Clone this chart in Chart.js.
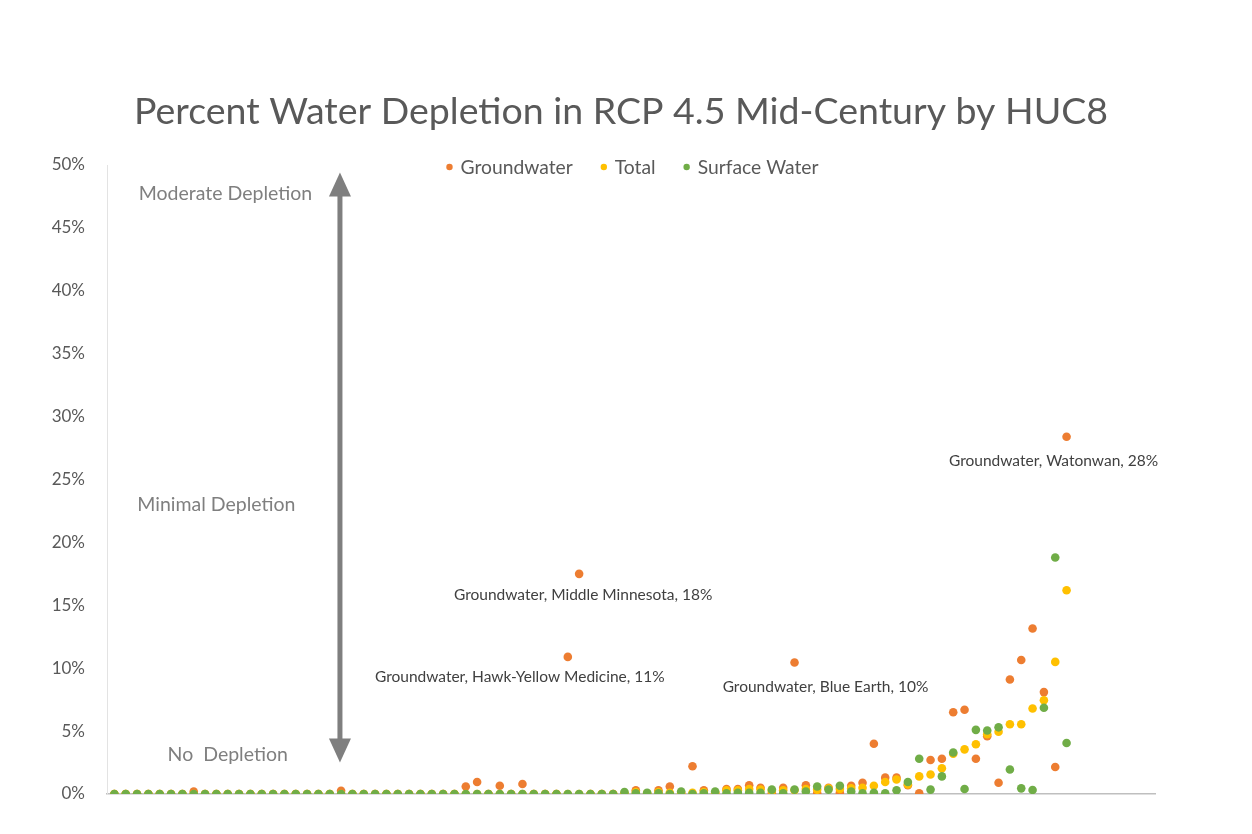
<!DOCTYPE html>
<html>
<head>
<meta charset="utf-8">
<script src="https://cdn.jsdelivr.net/npm/chart.js@4.4.1/dist/chart.umd.min.js"></script>
<style>
  html, body { margin: 0; padding: 0; background: #fff; }
  #caja { width: 1252px; height: 834px; position: relative; }
</style>
</head>
<body>
<div id="caja"><canvas id="grafica" width="1252" height="834"></canvas></div>
<script>
// HUC8 posiciones (ordenadas por depleción), 85 cuencas
const cuencas = Array.from({ length: 85 }, (_, i) => i);

// valores en %
const groundwater = [
  0, 0, 0, 0, 0, 0, 0, 0.2, 0, 0,
  0, 0, 0, 0, 0, 0, 0, 0, 0, 0,
  0.25, 0, 0, 0, 0, 0, 0, 0, 0, 0,
  0, 0.6, 0.95, 0, 0.65, 0, 0.8, 0, 0, 0,
  10.9, 17.5, 0, 0, 0, 0, 0.3, 0, 0.3, 0.6,
  0, 2.2, 0.3, 0.05, 0.4, 0.4, 0.7, 0.5, 0.05, 0.5,
  10.45, 0.7, 0.05, 0.5, 0.1, 0.65, 0.9, 4.0, 1.3, 1.3,
  0.7, 0.05, 2.7, 2.8, 6.5, 6.7, 2.8, 4.6, 0.9, 9.1,
  10.65, 13.15, 8.1, 2.15, 28.4
];
const total = [
  0, 0, 0, 0, 0, 0, 0, 0, 0, 0,
  0, 0, 0, 0, 0, 0, 0, 0, 0, 0,
  0, 0, 0, 0, 0, 0, 0, 0, 0, 0,
  0, 0, 0, 0, 0, 0, 0, 0, 0, 0,
  0, 0, 0, 0, 0, 0.05, 0.15, 0.05, 0.15, 0.1,
  0.1, 0.1, 0.15, 0.1, 0.3, 0.3, 0.4, 0.35, 0.25, 0.3,
  0.3, 0.4, 0.35, 0.45, 0.4, 0.45, 0.5, 0.65, 0.95, 1.15,
  0.75, 1.4, 1.55, 2.05, 3.2, 3.55, 3.95, 4.75, 4.95, 5.55,
  5.55, 6.8, 7.45, 10.5, 16.2
];
const surfaceWater = [
  0, 0, 0, 0, 0, 0, 0, 0, 0, 0,
  0, 0, 0, 0, 0, 0, 0, 0, 0, 0,
  0, 0, 0, 0, 0, 0, 0, 0, 0, 0,
  0, 0, 0, 0, 0, 0, 0, 0, 0, 0,
  0, 0, 0, 0, 0, 0.15, 0.05, 0.1, 0.05, 0,
  0.2, 0, 0.05, 0.2, 0.05, 0.1, 0.1, 0.1, 0.35, 0.05,
  0.35, 0.2, 0.6, 0.35, 0.65, 0.2, 0.05, 0.1, 0.05, 0.3,
  0.95, 2.8, 0.35, 1.4, 3.3, 0.4, 5.1, 5.05, 5.3, 1.95,
  0.45, 0.32, 6.86, 18.8, 4.05
];

const series = ['Groundwater', 'Total', 'Surface Water'];
const colores = ['#ED7D31', '#FFC000', '#70AD47'];
const ticksY = [0, 5, 10, 15, 20, 25, 30, 35, 40, 45, 50];
const titulo = 'Percent Water Depletion in RCP 4.5 Mid-Century by HUC8';

// etiquetas de puntos destacados (serie Groundwater)
const destacados = [
  { i: 41, nombre: 'Middle Minnesota', dx: 4, dy: 21 },
  { i: 40, nombre: 'Hawk-Yellow Medicine', dx: -48, dy: 20 },
  { i: 60, nombre: 'Blue Earth', dx: 31, dy: 24 },
  { i: 84, nombre: 'Watonwan', dx: -13, dy: 24 }
];

// zonas
const zonas = ['Moderate Depletion', 'Minimal Depletion', 'No  Depletion'];
const zonasY = [47.7, 23.0, 3.1];
const zonasX = [9.8, 9.0, 10.0];

const FUENTE = 'Lato, "Open Sans", sans-serif';

function puntos(valores) {
    return cuencas.map((c, k) => ({ x: c, y: valores[k] }));
}

const anotaciones = {
    id: 'anotaciones',
    afterDatasetsDraw(chart) {
        const ctx = chart.ctx;
        const sx = chart.scales.x, sy = chart.scales.y;
        const area = chart.chartArea;
        ctx.save();

        // título
        ctx.fillStyle = '#595959';
        ctx.font = '37.5px ' + FUENTE;
        ctx.textAlign = 'center';
        ctx.textBaseline = 'middle';
        ctx.fillText(titulo, chart.width / 2 - 5, 112);

        // flecha doble
        const ax = sx.getPixelForValue(19.9);
        const yTop = sy.getPixelForValue(49.4);
        const yBot = sy.getPixelForValue(2.5);
        ctx.fillStyle = '#7F7F7F';
        ctx.strokeStyle = '#7F7F7F';
        ctx.lineWidth = 5;
        ctx.beginPath();
        ctx.moveTo(ax, yTop + 20);
        ctx.lineTo(ax, yBot - 20);
        ctx.stroke();
        ctx.beginPath();
        ctx.moveTo(ax, yTop);
        ctx.lineTo(ax - 11, yTop + 24);
        ctx.lineTo(ax + 11, yTop + 24);
        ctx.closePath();
        ctx.fill();
        ctx.beginPath();
        ctx.moveTo(ax, yBot);
        ctx.lineTo(ax - 11, yBot - 24);
        ctx.lineTo(ax + 11, yBot - 24);
        ctx.closePath();
        ctx.fill();

        // textos de zonas
        ctx.font = '19.5px ' + FUENTE;
        zonas.forEach((t, k) => {
            ctx.fillText(t, sx.getPixelForValue(zonasX[k]), sy.getPixelForValue(zonasY[k]));
        });

        // etiquetas de datos
        ctx.fillStyle = '#404040';
        ctx.font = '15.5px ' + FUENTE;
        destacados.forEach(d => {
            const v = groundwater[d.i];
            const px = sx.getPixelForValue(cuencas[d.i]);
            const py = sy.getPixelForValue(v);
            ctx.fillText('Groundwater, ' + d.nombre + ', ' + Math.round(v) + '%', px + d.dx, py + d.dy);
        });

        // leyenda
        ctx.font = '19.3px ' + FUENTE;
        ctx.textAlign = 'left';
        const anchos = series.map(s => ctx.measureText(s).width);
        const hueco = 31, antes = 11;
        let totalAncho = 0;
        anchos.forEach((w, k) => { totalAncho += antes + w + (k < anchos.length - 1 ? hueco : 0); });
        let x = (area.left + area.right) / 2 - totalAncho / 2 + 3;
        const ly = area.top + 3;
        series.forEach((s, k) => {
            ctx.fillStyle = colores[k];
            ctx.beginPath();
            ctx.arc(x, ly - 1, 3.2, 0, Math.PI * 2);
            ctx.fill();
            ctx.fillStyle = '#595959';
            ctx.fillText(s, x + antes, ly);
            x += antes + anchos[k] + hueco;
        });

        ctx.restore();
    }
};

const datos = [groundwater, total, surfaceWater];

new Chart(document.getElementById('grafica'), {
    type: 'scatter',
    data: {
        datasets: series.map((s, k) => ({
            label: s,
            data: puntos(datos[k]),
            backgroundColor: colores[k],
            borderWidth: 0,
            pointRadius: 4.3,
            pointHoverRadius: 4.3,
            order: 3 - k
        }))
    },
    options: {
        responsive: false,
        animation: false,
        layout: { padding: { left: 0, right: 97, top: 165, bottom: 40 } },
        plugins: {
            legend: { display: false },
            tooltip: { enabled: false },
            title: { display: false }
        },
        scales: {
            x: {
                type: 'linear',
                min: -0.65,
                max: 91.8,
                ticks: { display: false },
                grid: { display: false, drawTicks: false },
                border: { display: true, color: '#BFBFBF', width: 1.5 }
            },
            y: {
                min: 0,
                max: 50,
                afterBuildTicks: ax => { ax.ticks = ticksY.map(v => ({ value: v })); },
                afterFit: ax => { ax.width = 107; },
                ticks: {
                    padding: 22,
                    color: '#595959',
                    font: { family: FUENTE, size: 17 },
                    callback: v => v + '%'
                },
                grid: { display: false, drawTicks: false },
                border: { display: true, color: '#E3E3E3', width: 1 }
            }
        }
    },
    plugins: [anotaciones]
});
</script>
</body>
</html>
